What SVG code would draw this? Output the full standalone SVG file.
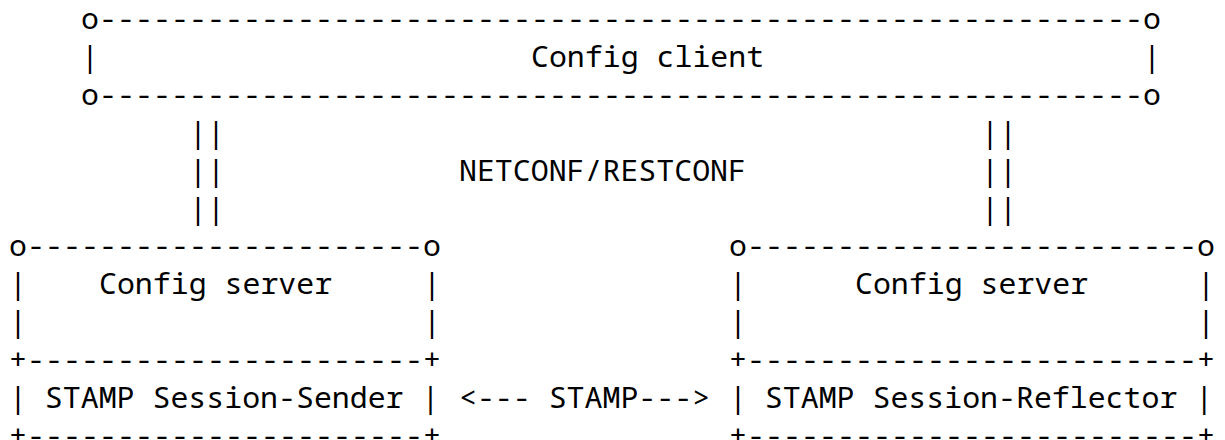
<svg xmlns="http://www.w3.org/2000/svg" width="1225" height="440" viewBox="0 0 1225 440">
<style>
.t{font-family:"Noto Sans Mono","DejaVu Sans Mono","Liberation Mono",monospace;font-size:29.9px;fill:#000;white-space:pre}
</style>
<rect width="1225" height="440" fill="#fff"/>
<g id="config-client" class="t" xml:space="preserve">
<text x="81" y="29" textLength="1080" lengthAdjust="spacing">o----------------------------------------------------------o</text>
<text x="81" y="66.9">|</text>
<text x="531" y="66.9">Config client</text>
<text x="1143" y="66.9">|</text>
<text x="81" y="104.8" textLength="1080" lengthAdjust="spacing">o----------------------------------------------------------o</text>
</g>
<g id="connectors" class="t" xml:space="preserve">
<text x="189" y="142.7">||</text>
<text x="981" y="142.7">||</text>
<text x="189" y="180.6">||</text>
<text x="459" y="180.6">NETCONF/RESTCONF</text>
<text x="981" y="180.6">||</text>
<text x="189" y="218.5">||</text>
<text x="981" y="218.5">||</text>
<text x="459" y="408">&lt;--- STAMP---&gt;</text>
</g>
<g id="config-server-sender" class="t" xml:space="preserve">
<text x="9" y="256.4" textLength="432" lengthAdjust="spacing">o----------------------o</text>
<text x="9" y="294.3">|</text>
<text x="99" y="294.3">Config server</text>
<text x="423" y="294.3">|</text>
<text x="9" y="332.2">|</text>
<text x="423" y="332.2">|</text>
<text x="9" y="370.1" textLength="432" lengthAdjust="spacing">+----------------------+</text>
<text x="9" y="408">| STAMP Session-Sender |</text>
<text x="9" y="445.9" textLength="432" lengthAdjust="spacing">+----------------------+</text>
</g>
<g id="config-server-reflector" class="t" xml:space="preserve">
<text x="729" y="256.4" textLength="486" lengthAdjust="spacing">o-------------------------o</text>
<text x="729" y="294.3">|</text>
<text x="855" y="294.3">Config server</text>
<text x="1197" y="294.3">|</text>
<text x="729" y="332.2">|</text>
<text x="1197" y="332.2">|</text>
<text x="729" y="370.1" textLength="486" lengthAdjust="spacing">+-------------------------+</text>
<text x="729" y="408">| STAMP Session-Reflector |</text>
<text x="729" y="445.9" textLength="486" lengthAdjust="spacing">+-------------------------+</text>
</g>
</svg>
